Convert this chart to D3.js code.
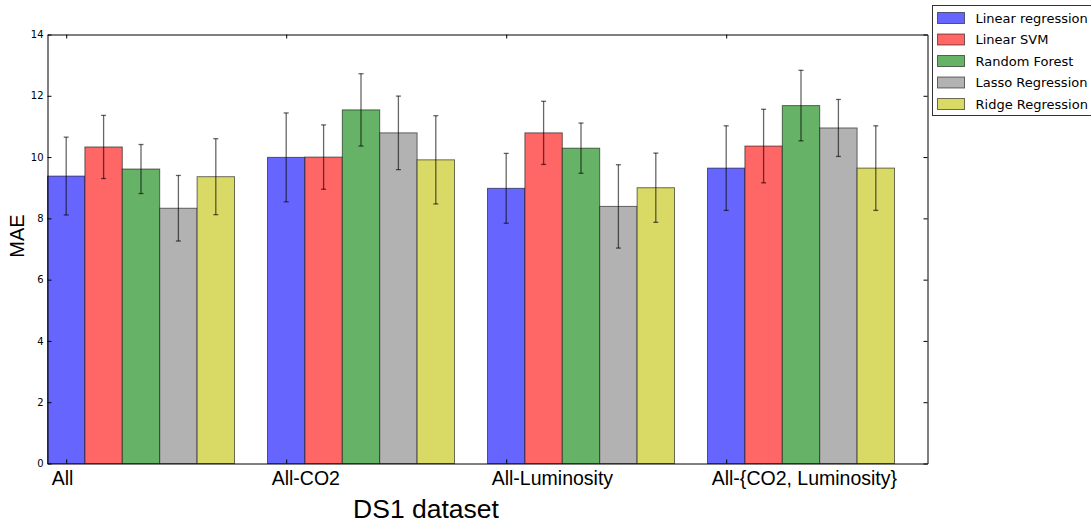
<!DOCTYPE html>
<html>
<head>
<meta charset="utf-8">
<script src="https://cdn.jsdelivr.net/npm/d3@7"></script>
<style>
  body { margin: 0; background: #fff; }
  svg { display: block; }
</style>
</head>
<body>
<div id="vis"></div>
<script>
const FRAME_WIDTH = 1091;
const FRAME_HEIGHT = 523;
const PLOT = {left: 47.5, right: 927.5, top: 34.5, bottom: 463.5};

// data
const GROUPS = ["All", "All-CO2", "All-Luminosity", "All-{CO2, Luminosity}"];
const MODELS = ["Linear regression", "Linear SVM", "Random Forest", "Lasso Regression", "Ridge Regression"];
const COLORS = ["#6666ff", "#ff6666", "#66b266", "#b2b2b2", "#d9d966"];

const LINEAR_REG = [9.38, 9.99, 8.98, 9.64];
const LINEAR_SVM = [10.33, 10.00, 10.79, 10.36];
const RANDOM_FOREST = [9.61, 11.54, 10.29, 11.68];
const LASSO = [8.33, 10.79, 8.39, 10.95];
const RIDGE = [9.36, 9.91, 9.00, 9.64];

const LINEAR_REG_ERR = [1.27, 1.45, 1.14, 1.38];
const LINEAR_SVM_ERR = [1.03, 1.05, 1.03, 1.20];
const RANDOM_FOREST_ERR = [0.80, 1.18, 0.82, 1.15];
const LASSO_ERR = [1.07, 1.20, 1.36, 0.93];
const RIDGE_ERR = [1.24, 1.44, 1.13, 1.38];

const Y_TICKS = [0, 2, 4, 6, 8, 10, 12, 14];
const BAR_W = 0.17;

const VALUES = [LINEAR_REG, LINEAR_SVM, RANDOM_FOREST, LASSO, RIDGE];
const ERRORS = [LINEAR_REG_ERR, LINEAR_SVM_ERR, RANDOM_FOREST_ERR, LASSO_ERR, RIDGE_ERR];

const FRAME = d3.select("#vis")
    .append("svg")
    .attr("width", FRAME_WIDTH)
    .attr("height", FRAME_HEIGHT);

const X_SCALE = d3.scaleLinear().domain([0, GROUPS.length]).range([PLOT.left, PLOT.right]);
const Y_SCALE = d3.scaleLinear().domain([0, 14]).range([PLOT.bottom, PLOT.top]);

// flatten into one row per bar
const bars = [];
VALUES.forEach((series, j) => {
    series.forEach((v, i) => {
        bars.push({g: i, m: j, value: v, err: ERRORS[j][i]});
    });
});

FRAME.append("g").selectAll("rect")
    .data(bars)
    .enter()
    .append("rect")
        .attr("x", d => X_SCALE(d.g + d.m * BAR_W))
        .attr("y", d => Y_SCALE(d.value))
        .attr("width", d => X_SCALE(BAR_W) - X_SCALE(0))
        .attr("height", d => Y_SCALE(0) - Y_SCALE(d.value))
        .attr("fill", d => COLORS[d.m])
        .attr("stroke", "#000")
        .attr("stroke-opacity", 0.55)
        .attr("stroke-width", 1);

// error bars
const errs = FRAME.append("g")
    .attr("stroke", "#000")
    .attr("stroke-opacity", 0.6)
    .attr("stroke-width", 1.3);

const cx = d => X_SCALE(d.g + d.m * BAR_W + BAR_W / 2);

errs.selectAll(".stem").data(bars).enter().append("line")
    .attr("x1", cx).attr("x2", cx)
    .attr("y1", d => Y_SCALE(d.value + d.err))
    .attr("y2", d => Y_SCALE(d.value - d.err));
errs.selectAll(".capt").data(bars).enter().append("line")
    .attr("x1", d => cx(d) - 2.5).attr("x2", d => cx(d) + 2.5)
    .attr("y1", d => Y_SCALE(d.value + d.err))
    .attr("y2", d => Y_SCALE(d.value + d.err));
errs.selectAll(".capb").data(bars).enter().append("line")
    .attr("x1", d => cx(d) - 2.5).attr("x2", d => cx(d) + 2.5)
    .attr("y1", d => Y_SCALE(d.value - d.err))
    .attr("y2", d => Y_SCALE(d.value - d.err));

// axes, ticks pointing inward like old matplotlib
const X_TICKS = GROUPS.map((g, i) => i + BAR_W / 2);

const xAxis = FRAME.append("g")
    .attr("transform", "translate(0," + PLOT.bottom + ")")
    .call(d3.axisBottom(X_SCALE).tickValues(X_TICKS)
        .tickFormat((d, i) => GROUPS[i])
        .tickSizeInner(-4).tickSizeOuter(0).tickPadding(6));
xAxis.selectAll("text")
    .attr("text-anchor", "start")
    .attr("dx", -15)
    .attr("dy", "0.8em")
    .style("font-family", "Liberation Sans, Arial, sans-serif")
    .style("font-size", "19.5px")
    .attr("fill", "#000");

FRAME.append("g")
    .attr("transform", "translate(0," + PLOT.top + ")")
    .call(d3.axisTop(X_SCALE).tickValues(X_TICKS).tickFormat("")
        .tickSizeInner(-4).tickSizeOuter(0));

const yAxis = FRAME.append("g")
    .attr("transform", "translate(" + PLOT.left + ",0)")
    .call(d3.axisLeft(Y_SCALE).tickValues(Y_TICKS)
        .tickSizeInner(-4).tickSizeOuter(0).tickPadding(4));
yAxis.selectAll("text")
    .style("font-family", "DejaVu Sans, sans-serif")
    .style("font-size", "10px")
    .attr("fill", "#000");

FRAME.append("g")
    .attr("transform", "translate(" + PLOT.right + ",0)")
    .call(d3.axisRight(Y_SCALE).tickValues(Y_TICKS).tickFormat("")
        .tickSizeInner(-4).tickSizeOuter(0));

FRAME.selectAll(".domain").attr("stroke", "#000");
FRAME.selectAll(".tick line").attr("stroke", "#000");

// axis titles
FRAME.append("text")
    .attr("x", 426)
    .attr("y", 518)
    .attr("text-anchor", "middle")
    .style("font-family", "Liberation Sans, Arial, sans-serif")
    .style("font-size", "26.5px")
    .text("DS1 dataset");

FRAME.append("text")
    .attr("transform", "translate(24,236) rotate(-90)")
    .attr("text-anchor", "middle")
    .style("font-family", "Liberation Sans, Arial, sans-serif")
    .style("font-size", "20px")
    .text("MAE");

// legend, spills past the right edge like the original
const legend = FRAME.append("g").attr("transform", "translate(932.5,5.5)");
legend.append("rect")
    .attr("width", 180)
    .attr("height", 110)
    .attr("fill", "#fff")
    .attr("stroke", "#000")
    .attr("stroke-opacity", 0.8);

const items = legend.selectAll(".item")
    .data(MODELS)
    .enter()
    .append("g")
        .attr("transform", (d, i) => "translate(0," + (12.5 + i * 21.5) + ")");
items.append("rect")
    .attr("x", 5)
    .attr("y", -5.5)
    .attr("width", 27)
    .attr("height", 11)
    .attr("fill", (d, i) => COLORS[i])
    .attr("stroke", "#000")
    .attr("stroke-opacity", 0.55);
items.append("text")
    .attr("x", 43)
    .attr("dy", "0.36em")
    .style("font-family", "DejaVu Sans, sans-serif")
    .style("font-size", "13px")
    .text(d => d);
</script>
</body>
</html>
